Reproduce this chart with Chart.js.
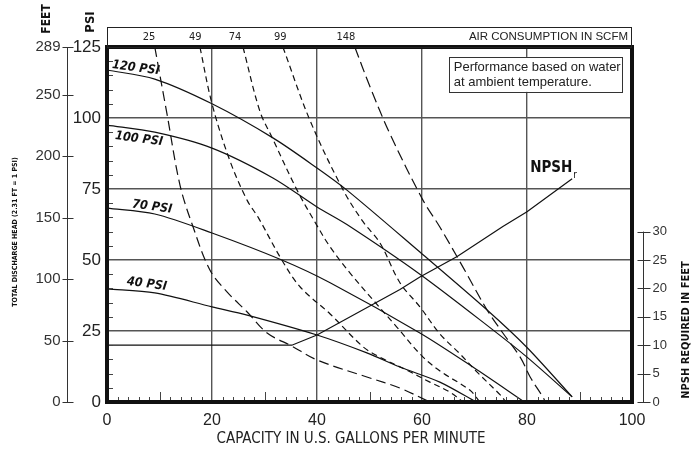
<!DOCTYPE html>
<html>
<head>
<meta charset="utf-8">
<script src="https://cdn.jsdelivr.net/npm/chart.js@4.4.1/dist/chart.umd.min.js"></script>
<style>
  html, body { margin: 0; background: #fff; }
</style>
</head>
<body>
<canvas id="c" width="691" height="450"></canvas>
<script>
// performance curves: [gpm, psi]
const psi120 = [[0,116.9],[9.1,113.7],[20,105],[31.6,93],[40,82.4],[45.7,74.6],[59.6,52.8],[72.4,32.4],[80,19.2],[88.6,1.8]];
const psi100 = [[0,97.5],[9.1,95],[20,89.4],[31.6,78.9],[40,68.7],[45.7,62.5],[59.6,45],[73.5,25.4],[80,15.8],[88.6,1.8]];
const psi70  = [[0,68.3],[9.1,66.2],[20,59.5],[33.3,50],[42.5,42],[59.6,24.3],[69.7,12.3],[79.5,0]];
const psi40  = [[0,39.8],[9.1,38.4],[20,33.5],[26.7,30.6],[40,23.6],[49.5,17.3],[55.8,12.3],[63.4,7],[70.3,0]];

// air consumption curves (SCFM): [gpm, psi]
const scfm25  = [[9.1,125],[11.4,101.7],[13.9,76.4],[16.4,61.6],[19.6,46.5],[22.9,38.7],[26.7,31.7],[30.5,24.3],[35.2,19.7],[40,14.8],[49.5,8.8],[55.8,4.9],[61.5,0]];
const scfm49  = [[17.7,125],[20,105],[23.4,85],[26.7,71],[28.8,65],[33.3,50],[36.8,40.5],[42.5,31],[48.8,19.4],[52,15.8],[57,11.3],[61.5,7],[65.3,3.5],[67.8,0]];
const scfm74  = [[25.9,125],[29.1,102.5],[31.4,93.3],[36.2,74.6],[39.6,63.4],[42.5,54.6],[46.3,45.4],[50.7,35.9],[55.2,26.4],[60.2,15.8],[64,10.2],[69.1,4.2],[71,0]];
const scfm99  = [[33.5,125],[38.7,99],[45,74.6],[48.8,63.4],[52,56],[55.8,42],[59.6,33.5],[63.4,24],[67.2,17],[70.5,10.5],[74.9,2.5],[76,0]];
const scfm148 = [[47.2,125],[50.1,111],[53.9,94.4],[60.2,71],[63.4,61.6],[67.8,47.5],[72.4,32.4],[75.4,24.3],[78.7,15.8],[80.6,8.8],[83,1.8],[83.5,0]];

// NPSH required: [gpm, feet]
const npshr = [[0,10],[35.2,10],[40,11.8],[55.8,19.8],[59.6,22],[66.7,25.6],[75.4,30.9],[80,33.5],[88.6,39.3]];

// axis ticks
const gpmTicks  = [0, 20, 40, 60, 80, 100];
const psiTicks  = [0, 25, 50, 75, 100, 125];
const feetTicks = [0, 50, 100, 150, 200, 250, 288.75];
const npshTicks = [0, 5, 10, 15, 20, 25, 30];

// air consumption header labels and where they sit (gpm)
const airLabels = ['25', '49', '74', '99', '148'];
const airLabelAt = [8, 16.8, 24.4, 33, 45.5];

// curve names, anchored in data units
const curveLabels = [
  { text: '120 PSI', x: 5.5, y: 117.6 },
  { text: '100 PSI', x: 6.1, y: 92.6 },
  { text: '70 PSI',  x: 8.6, y: 68.7 },
  { text: '40 PSI',  x: 7.6, y: 41.5 },
];

const NARROW = '"Liberation Sans Narrow", "DejaVu Sans Condensed", "Liberation Sans", sans-serif';
const PLAIN = '"Liberation Sans", Arial, sans-serif';

const toXY = arr => arr.map(([x, y]) => ({ x, y }));

function solid(data) {
  return { data: toXY(data), borderColor: '#111', borderWidth: 1.2, pointRadius: 0,
           showLine: true, tension: 0.3, yAxisID: 'y' };
}
function dashed(data, dash) {
  return { data: toXY(data), borderColor: '#111', borderWidth: 1.2, pointRadius: 0,
           showLine: true, tension: 0.35, borderDash: dash, yAxisID: 'y' };
}

function vText(ctx, text, x, y, font) {
  ctx.save();
  ctx.translate(x, y);
  ctx.rotate(-Math.PI / 2);
  ctx.font = font;
  ctx.textAlign = 'center';
  ctx.textBaseline = 'middle';
  ctx.fillText(text, 0, 0);
  ctx.restore();
}

const decor = {
  id: 'decor',
  afterDraw(chart) {
    const { ctx, chartArea: a, scales } = chart;
    const x = scales.x, y = scales.y, ft = scales.feet, np = scales.npsh;
    ctx.save();

    // small ticks inside the frame
    ctx.strokeStyle = '#444';
    ctx.lineWidth = 1;
    ctx.beginPath();
    for (let g = 2; g < 100; g += 2) {
      if (g % 20 === 0) continue;
      const px = Math.round(x.getPixelForValue(g)) + 0.5;
      const h = g % 10 === 0 ? 10 : 5;
      ctx.moveTo(px, a.bottom);
      ctx.lineTo(px, a.bottom - h);
    }
    for (let p = 5; p < 125; p += 5) {
      if (p % 25 === 0) continue;
      const py = Math.round(y.getPixelForValue(p)) + 0.5;
      ctx.moveTo(a.left, py);
      ctx.lineTo(a.left + 6, py);
    }
    ctx.stroke();

    // heavy frame
    ctx.strokeStyle = '#111';
    ctx.lineWidth = 4;
    ctx.strokeRect(a.left, a.top, a.width, a.height);

    // air consumption header
    ctx.lineWidth = 1;
    ctx.strokeStyle = '#222';
    ctx.strokeRect(a.left + 0.5, 27.5, a.width - 1, a.top - 27);
    ctx.fillStyle = '#222';
    ctx.font = '11px ' + NARROW;
    ctx.textAlign = 'center';
    ctx.textBaseline = 'middle';
    airLabels.forEach((t, i) => ctx.fillText(t, x.getPixelForValue(airLabelAt[i]), 37));
    ctx.font = '11.5px ' + PLAIN;
    ctx.textAlign = 'right';
    ctx.fillText('AIR CONSUMPTION IN SCFM', a.right - 4, 37);

    // feet axis (left, outside)
    const fx = 67.5;
    ctx.strokeStyle = '#333';
    ctx.beginPath();
    ctx.moveTo(fx, ft.getPixelForValue(0));
    ctx.lineTo(fx, ft.getPixelForValue(288.75));
    feetTicks.forEach(v => {
      const py = Math.round(ft.getPixelForValue(v)) + 0.5;
      ctx.moveTo(fx - 5, py);
      ctx.lineTo(fx + 6, py);
    });
    ctx.stroke();
    ctx.font = '15px ' + PLAIN;
    ctx.textAlign = 'right';
    ctx.fillStyle = '#333';
    feetTicks.forEach(v => ctx.fillText(String(Math.round(v)), fx - 7, ft.getPixelForValue(v)));

    // npsh axis (right)
    const nx = 643.5;
    ctx.beginPath();
    ctx.moveTo(nx, np.getPixelForValue(0));
    ctx.lineTo(nx, np.getPixelForValue(30));
    npshTicks.forEach(v => {
      const py = Math.round(np.getPixelForValue(v)) + 0.5;
      ctx.moveTo(nx - 6, py);
      ctx.lineTo(nx + 7, py);
    });
    ctx.stroke();
    ctx.font = '13px ' + PLAIN;
    ctx.textAlign = 'left';
    npshTicks.forEach(v => ctx.fillText(String(v), nx + 9, np.getPixelForValue(v)));

    // axis titles
    ctx.fillStyle = '#111';
    vText(ctx, 'FEET', 47, 19, 'bold 12px ' + NARROW);
    vText(ctx, 'PSI', 91, 22, 'bold 13px ' + NARROW);
    vText(ctx, 'TOTAL DISCHARGE HEAD (2.31 FT = 1 PSI)', 15, 232, 'bold 7px ' + NARROW);
    vText(ctx, 'NPSH REQUIRED IN FEET', 686, 330, 'bold 11px ' + NARROW);
    ctx.font = '15px ' + NARROW;
    ctx.textAlign = 'center';
    ctx.textBaseline = 'middle';
    ctx.fillStyle = '#222';
    ctx.fillText('CAPACITY IN U.S. GALLONS PER MINUTE', 351, 439);

    // curve names
    ctx.fillStyle = '#111';
    ctx.font = 'italic bold 12.5px ' + NARROW;
    curveLabels.forEach(l => {
      ctx.save();
      ctx.translate(x.getPixelForValue(l.x), y.getPixelForValue(l.y));
      ctx.rotate(7.5 * Math.PI / 180);
      ctx.textAlign = 'center';
      ctx.fillText(l.text, 0, 0);
      ctx.restore();
    });

    // NPSHr label
    ctx.font = 'bold 15px ' + NARROW;
    ctx.textAlign = 'left';
    const lx = x.getPixelForValue(80.6), ly = y.getPixelForValue(82.4);
    ctx.fillText('NPSH', lx, ly);
    const w = ctx.measureText('NPSH').width;
    ctx.font = '10px ' + NARROW;
    ctx.fillText('r', lx + w + 1, ly + 7);

    // note box
    const bx0 = x.getPixelForValue(65.1), bx1 = x.getPixelForValue(98.1);
    const by0 = y.getPixelForValue(121.5), by1 = y.getPixelForValue(109.2);
    ctx.fillStyle = '#fff';
    ctx.fillRect(bx0, by0, bx1 - bx0, by1 - by0);
    ctx.strokeStyle = '#333';
    ctx.lineWidth = 1;
    ctx.strokeRect(Math.round(bx0) + 0.5, Math.round(by0) + 0.5, Math.round(bx1 - bx0), Math.round(by1 - by0));
    ctx.fillStyle = '#222';
    ctx.font = '13px ' + PLAIN;
    ctx.textAlign = 'left';
    ctx.fillText('Performance based on water', bx0 + 5, by0 + 10);
    ctx.fillText('at ambient temperature.', bx0 + 5, by0 + 25);

    ctx.restore();
  }
};

new Chart(document.getElementById('c'), {
  type: 'scatter',
  data: {
    datasets: [
      solid(psi120), solid(psi100), solid(psi70), solid(psi40),
      dashed(scfm25, [10, 5]), dashed(scfm49, [6, 4]), dashed(scfm74, [6, 4]),
      dashed(scfm99, [6, 4]), dashed(scfm148, [11, 5]),
      { data: toXY(npshr), borderColor: '#111', borderWidth: 1.2, pointRadius: 0,
        showLine: true, tension: 0, yAxisID: 'npsh' },
    ],
  },
  options: {
    responsive: false,
    animation: false,
    layout: { padding: { left: 60, right: 59, top: 47, bottom: 0 } },
    plugins: { legend: { display: false }, tooltip: { enabled: false } },
    scales: {
      x: {
        type: 'linear', min: 0, max: 100,
        afterBuildTicks: s => { s.ticks = gpmTicks.map(v => ({ value: v })); },
        afterFit: s => { s.height = 48; },
        grid: { color: '#555', lineWidth: 1.4, drawTicks: false },
        border: { display: false },
        ticks: { padding: 9, color: '#222', font: { family: PLAIN, size: 16 } },
      },
      y: {
        type: 'linear', min: 0, max: 125,
        afterBuildTicks: s => { s.ticks = psiTicks.map(v => ({ value: v })); },
        afterFit: s => { s.width = 47; },
        grid: { color: '#555', lineWidth: 1.4, drawTicks: false },
        border: { display: false },
        ticks: { padding: 6, color: '#222', font: { family: PLAIN, size: 17 } },
      },
      feet: { type: 'linear', position: 'left', display: false, min: 0, max: 288.75 },
      npsh: { type: 'linear', position: 'right', display: false, min: 0, max: 62.5 },
    },
  },
  plugins: [decor],
});
</script>
</body>
</html>
